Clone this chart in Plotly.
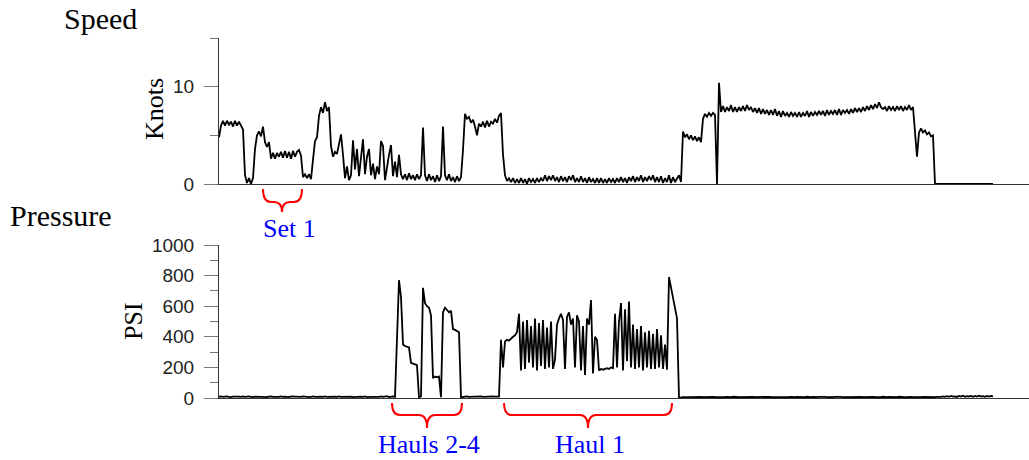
import plotly.graph_objects as go

# ---------------- data ----------------
# sample time grid (arbitrary minutes, one sample every 2 units)
time_min = list(range(0, 812, 2))

speed_knots = [
    4.8, 6.0, 6.5, 6.0, 6.5, 6.1, 6.4, 5.9, 6.5, 6.0,
    6.4, 5.9, 5.6, 0.9, 0.1, 0.6, 0.0, 0.6, 3.6, 5.0,
    5.4, 4.9, 5.9, 4.3, 3.8, 4.3, 2.6, 3.2, 2.6, 3.2,
    2.8, 3.3, 2.7, 3.4, 2.7, 3.3, 2.6, 3.4, 2.8, 3.3,
    3.5, 2.9, 0.7, 1.0, 0.6, 1.0, 0.5, 2.5, 4.4, 4.8,
    7.0, 7.9, 7.3, 8.4, 7.5, 7.9, 3.9, 2.8, 3.3, 3.1,
    4.2, 5.1, 3.0, 0.6, 1.8, 0.4, 0.9, 4.5, 1.5, 3.6,
    0.8, 3.0, 4.6, 1.0, 2.8, 3.6, 0.9, 2.1, 0.5, 1.8,
    1.0, 4.4, 3.9, 0.4, 2.0, 3.0, 4.0, 0.8, 2.3, 0.7,
    3.0, 1.0, 0.5, 1.0, 0.4, 1.1, 0.5, 0.9, 0.4, 1.0,
    0.5, 0.9, 5.8, 0.9, 0.3, 1.0, 0.4, 0.8, 0.2, 0.9,
    0.3, 0.8, 5.9, 0.9, 0.4, 1.0, 0.3, 0.7, 0.2, 0.8,
    0.3, 0.7, 3.5, 7.2, 6.7, 6.9, 6.3, 6.6, 5.9, 5.0,
    6.2, 5.9, 6.4, 5.8, 6.5, 5.9, 6.4, 6.2, 6.7, 6.3,
    7.0, 7.3, 3.0, 0.9, 0.3, 0.6, 0.2, 0.6, 0.1, 0.5,
    0.1, 0.6, 0.1, 0.5, 0.0, 0.6, 0.2, 0.5, 0.1, 0.6,
    0.2, 0.6, 0.3, 0.9, 0.3, 0.8, 0.4, 0.9, 0.3, 0.7,
    0.2, 0.8, 0.3, 0.7, 0.2, 0.8, 0.4, 0.9, 0.2, 0.6,
    0.2, 0.8, 0.2, 0.6, 0.1, 0.7, 0.2, 0.5, 0.1, 0.6,
    0.1, 0.6, 0.1, 0.5, 0.1, 0.6, 0.2, 0.5, 0.1, 0.6,
    0.2, 0.7, 0.2, 0.6, 0.1, 0.7, 0.3, 0.8, 0.2, 0.7,
    0.3, 0.9, 0.2, 0.7, 0.3, 0.8, 0.4, 0.9, 0.2, 0.7,
    0.2, 0.8, 0.1, 0.6, 0.2, 0.9, 0.1, 0.7, 0.2, 0.6,
    0.9, 0.2, 5.4, 4.8, 5.1, 4.6, 5.0, 4.5, 4.9, 4.4,
    4.8, 4.3, 6.7, 7.2, 6.9, 7.3, 7.0, 7.3, 7.1, 0.0,
    10.4, 7.4, 8.0, 7.4, 7.9, 7.5, 8.1, 7.4, 7.9, 7.4,
    7.9, 7.5, 8.0, 7.5, 8.1, 7.6, 7.9, 7.4, 7.8, 7.3,
    7.8, 7.2, 7.7, 7.2, 7.6, 7.1, 7.6, 7.1, 7.7, 7.0,
    7.5, 6.9, 7.5, 7.0, 7.3, 6.9, 7.4, 7.0, 7.3, 6.9,
    7.4, 6.9, 7.3, 7.0, 7.5, 6.9, 7.4, 7.0, 7.4, 7.1,
    7.5, 7.1, 7.5, 7.0, 7.6, 7.1, 7.5, 7.2, 7.6, 7.1,
    7.7, 7.1, 7.6, 7.3, 7.6, 7.2, 7.7, 7.3, 7.8, 7.4,
    7.8, 7.4, 7.9, 7.5, 8.0, 7.6, 8.1, 7.7, 8.2, 7.8,
    8.4, 7.9, 7.7, 7.9, 7.5, 8.0, 7.6, 7.9, 7.5, 8.0,
    7.6, 8.0, 7.5, 7.9, 7.6, 8.1, 7.6, 7.9, 5.0, 2.8,
    5.3, 5.7, 5.3, 5.5, 5.1, 5.3, 4.9, 5.0, 0.0, 0.0,
    0.0, 0.0, 0.0, 0.0, 0.0, 0.0, 0.0, 0.0, 0.0, 0.0,
    0.0, 0.0, 0.0, 0.0, 0.0, 0.0, 0.0, 0.0, 0.0, 0.0,
    0.0, 0.0, 0.0, 0.0, 0.0, 0.0, 0.0, 0.0, None, None,
    None, None, None, None, None, None, None, None, None, None,
    None, None, None, None, None, None,
]

pressure_psi = [
    8, 10, 7, 9, 11, 8, 6, 9, 10, 7,
    9, 8, 11, 7, 9, 10, 8, 6, 9, 8,
    10, 7, 9, 8, 6, 9, 11, 8, 7, 9,
    8, 10, 7, 9, 8, 6, 10, 9, 7, 8,
    9, 7, 10, 8, 9, 6, 8, 10, 7, 9,
    8, 9, 7, 10, 8, 9, 6, 8, 9, 7,
    10, 8, 9, 7, 8, 10, 9, 6, 8, 9,
    7, 9, 8, 10, 6, 9, 8, 7, 9, 8,
    8, 10, 7, 9, 12, 6, 9, 11, 8, 420,
    770, 660, 350, 340, 335, 330, 230, 225, 220, 215,
    5, 10, 720, 620, 600, 590, 540, 130, 140, 135,
    140, 5, 560, 590, 575, 560, 570, 450, 445, 440,
    430, 5, 8, 9, 10, 8, 9, 10, 8, 9,
    9, 10, 8, 9, 10, 9, 8, 10, 9, 8,
    9, 380, 200, 370, 380, 375, 390, 400, 410, 430,
    550, 180, 500, 190, 510, 230, 470, 200, 520, 180,
    490, 210, 510, 190, 460, 200, 500, 190, 250, 480,
    520, 550, 510, 190, 530, 560, 480, 520, 200, 540,
    500, 180, 470, 150, 520, 480, 640, 160, 400, 380,
    180, 190, 185, 190, 195, 190, 200, 195, 550, 200,
    500, 620, 180, 580, 240, 630, 200, 480, 190, 450,
    200, 470, 180, 430, 200, 440, 190, 420, 190, 450,
    200, 410, 190, 350, 185, 790, 720, 640, 580, 520,
    0, 5, 6, 5, 7, 6, 5, 6, 7, 5,
    6, 7, 5, 6, 8, 6, 5, 7, 6, 5,
    7, 6, 5, 6, 7, 5, 6, 8, 6, 7,
    5, 6, 7, 6, 5, 7, 6, 8, 5, 6,
    7, 5, 6, 7, 6, 8, 5, 6, 7, 6,
    5, 7, 6, 5, 8, 6, 7, 5, 6, 7,
    6, 5, 7, 6, 8, 5, 6, 7, 5, 6,
    8, 6, 5, 7, 6, 5, 7, 6, 8, 6,
    5, 7, 6, 8, 5, 6, 7, 6, 5, 8,
    6, 7, 5, 6, 8, 6, 5, 7, 6, 5,
    7, 6, 8, 5, 6, 7, 6, 5, 7, 6,
    8, 6, 7, 5, 6, 8, 7, 6, 5, 7,
    6, 5, 7, 6, 8, 6, 5, 7, 6, 8,
    6, 8, 10, 7, 12, 8, 14, 9, 11, 7,
    13, 9, 15, 8, 12, 10, 14, 8, 13, 9,
    15, 10, 12, 8, 14, 9, 13, 10, None, None,
    None, None, None, None, None, None, None, None, None, None,
    None, None, None, None, None, None,
]

speed_ticks = [0, 10]
pressure_ticks = [0, 200, 400, 600, 800, 1000]

# brace annotations: (start, end, centre) in time units, label
brace_set1 = (44, 83, 63, "Set 1")
brace_hauls24 = (173, 243, 208, "Hauls 2-4")
brace_haul1 = (285, 453, 369, "Haul 1")

# ---------------- layout geometry ----------------
W, H = 1029, 460
L = 219
T_MAX = 810


def px_x(px):
    return (px - L) / (W - L)


def px_y(py):
    return 1 - py / H


AXIS = "#333333"
TICK = "#777777"
SERIF = "Liberation Serif, Times New Roman, serif"
SANS = "Liberation Sans, Arial, sans-serif"

fig = go.Figure()
fig.add_trace(go.Scatter(x=time_min, y=speed_knots, mode="lines",
                         line=dict(color="black", width=1.8),
                         xaxis="x", yaxis="y", showlegend=False))
fig.add_trace(go.Scatter(x=time_min, y=pressure_psi, mode="lines",
                         line=dict(color="black", width=1.8),
                         xaxis="x2", yaxis="y2", showlegend=False))

xcommon = dict(range=[0, T_MAX], showline=True, linecolor=AXIS, linewidth=1,
               ticks="", showticklabels=False, showgrid=False, zeroline=False,
               domain=[0, 1])
ycommon = dict(showline=True, linecolor=AXIS, linewidth=1, ticks="outside",
               ticklen=14, tickcolor=TICK, tickwidth=1, showgrid=False,
               zeroline=False, ticklabelstandoff=6,
               tickfont=dict(family=SANS, size=19, color="#222222"))

fig.update_layout(
    width=W, height=H, autosize=False,
    margin=dict(l=L, r=0, t=0, b=0, pad=0, autoexpand=False),
    paper_bgcolor="white", plot_bgcolor="white",
    xaxis=dict(**xcommon, anchor="y"),
    yaxis=dict(**ycommon, anchor="x", domain=[px_y(184), px_y(38)],
               range=[0, 15], tickvals=speed_ticks,
               minor=dict(dtick=5, tick0=0, ticks="outside", ticklen=8,
                          tickcolor=TICK, showgrid=False)),
    xaxis2=dict(**xcommon, anchor="y2"),
    yaxis2=dict(**ycommon, anchor="x2", domain=[px_y(398), px_y(245)],
                range=[0, 1000], tickvals=pressure_ticks,
                minor=dict(dtick=100, tick0=0, ticks="outside", ticklen=8,
                           tickcolor=TICK, showgrid=False)),
)

ann = []
ann.append(dict(text="Speed", x=px_x(62), y=px_y(19), xanchor="left", yanchor="middle"))
ann.append(dict(text="Pressure", x=px_x(8), y=px_y(216), xanchor="left", yanchor="middle"))
for a in ann:
    a.update(xref="paper", yref="paper", showarrow=False,
             font=dict(family=SERIF, size=30, color="black"))

for text, cx, cy in [("Knots", 155, 109), ("PSI", 133, 321)]:
    ann.append(dict(text=text, x=px_x(cx), y=px_y(cy), xref="paper", yref="paper",
                    xanchor="center", yanchor="middle", textangle=-90, showarrow=False,
                    font=dict(family=SERIF, size=26, color="black")))

shapes = []


def brace(t1, t2, tc, py_top, py_mid, py_bot):
    r = 8.0
    X = lambda t: t / T_MAX
    yt, ym, yb = px_y(py_top), px_y(py_mid), px_y(py_bot)
    pts = (f"M {X(t1)},{yt} Q {X(t1)},{ym} {X(t1 + r)},{ym} "
           f"L {X(tc - r)},{ym} Q {X(tc)},{ym} {X(tc)},{yb} "
           f"Q {X(tc)},{ym} {X(tc + r)},{ym} "
           f"L {X(t2 - r)},{ym} Q {X(t2)},{ym} {X(t2)},{yt}")
    return dict(type="path", path=pts, xref="paper", yref="paper",
                line=dict(color="#ff0000", width=2))


for (t1, t2, tc, label), (ptop, pmid, pbot, ly, lx) in [
    (brace_set1, (189, 202, 212, 228, 289)),
    (brace_hauls24, (403, 415, 428, 444, 429)),
    (brace_haul1, (403, 415, 428, 444, 590)),
]:
    shapes.append(brace(t1, t2, tc, ptop, pmid, pbot))
    ann.append(dict(text=label, x=px_x(lx), y=px_y(ly), xref="paper", yref="paper",
                    xanchor="center", yanchor="middle", showarrow=False,
                    font=dict(family=SERIF, size=26, color="#0000ff")))

fig.update_layout(annotations=ann, shapes=shapes)
print(len(time_min), len(speed_knots), len(pressure_psi))
fig.write_html("out.html")
